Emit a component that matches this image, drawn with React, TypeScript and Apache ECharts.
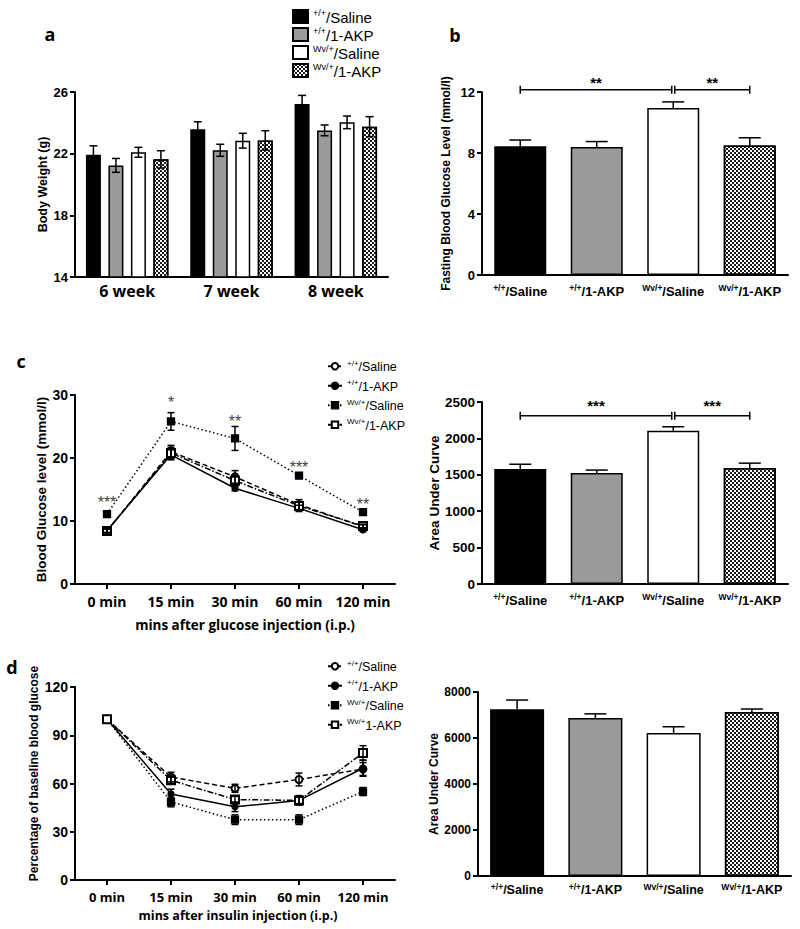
import React, { useEffect, useRef } from 'react';
import * as echarts from 'echarts';

const FONT = '"Liberation Sans", Arial, Helvetica, sans-serif';
const FONT2 = '"Open Sans", "Liberation Sans", sans-serif';

// ---------- shared group labels ----------
const genoSup = ['+/+', '+/+', 'Wv/+', 'Wv/+'];
const treatment = ['/Saline', '/1-AKP', '/Saline', '/1-AKP'];
const ittLegendTreatment = ['/Saline', '/1-AKP', '/Saline', '1-AKP'];
const groupNames = genoSup.map((g, i) => g + treatment[i]);

// ---------- panel a : body weight ----------
const weeks = ['6 week', '7 week', '8 week'];
const bwWtSaline = [21.93, 23.58, 25.22];
const bwWtSalineErr = [0.58, 0.49, 0.56];
const bwWtAkp = [21.24, 22.22, 23.51];
const bwWtAkpErr = [0.45, 0.39, 0.35];
const bwWvSaline = [22.09, 22.84, 24.03];
const bwWvSalineErr = [0.32, 0.48, 0.41];
const bwWvAkp = [21.63, 22.86, 23.75];
const bwWvAkpErr = [0.56, 0.63, 0.65];

// ---------- panel b : fasting blood glucose ----------
const fbgMean = [8.45, 8.4, 10.95, 8.5];
const fbgSem = [0.4, 0.35, 0.4, 0.5];
const fbgBrackets = [[0, 2], [2, 3]];
const fbgBracketY = 12.15;
const fbgBracketStars = ['**', '**'];

// ---------- panel c : GTT ----------
const times = ['0 min', '15 min', '30 min', '60 min', '120 min'];
const gttWtSaline = [8.4, 21.0, 17.0, 12.6, 9.1];
const gttWtSalineErr = [0.3, 1.0, 1.0, 0.8, 0.3];
const gttWtAkp = [8.5, 20.5, 15.2, 12.0, 8.6];
const gttWtAkpErr = [0.3, 0.8, 0.4, 0.5, 0.3];
const gttWvSaline = [11.1, 25.8, 23.1, 17.2, 11.4];
const gttWvSalineErr = [0.4, 1.4, 1.9, 0.4, 0.3];
const gttWvAkp = [8.4, 20.8, 16.4, 12.4, 9.2];
const gttWvAkpErr = [0.3, 0.9, 0.8, 0.6, 0.3];
const gttStars = ['***', '*', '**', '***', '**'];
const gttStarY = [13.6, 29.4, 26.5, 19.2, 13.2];

const aucGttMean = [1580, 1525, 2105, 1595];
const aucGttSem = [65, 40, 55, 65];
const aucGttBrackets = [[0, 2], [2, 3]];
const aucGttBracketY = 2310;
const aucGttStars = ['***', '***'];

// ---------- panel d : ITT ----------
const ittWtSaline = [100, 64, 57, 62.5, 69];
const ittWtSalineErr = [0, 3, 2.5, 4, 4];
const ittWtAkp = [100, 53.5, 45.5, 49.5, 69.5];
const ittWtAkpErr = [0, 3, 3, 3, 5];
const ittWvSaline = [100, 48.5, 37.5, 37.5, 55];
const ittWvSalineErr = [0, 3, 3, 3, 2.5];
const ittWvAkp = [100, 62, 50, 49.5, 79];
const ittWvAkpErr = [0, 2, 2, 2, 4.5];

const aucIttMean = [7250, 6870, 6220, 7130];
const aucIttSem = [400, 180, 270, 130];

// ---------- styles ----------
const checkerDecal = {
  symbol: 'rect',
  symbolSize: 1,
  color: '#1a1a1a',
  dashArrayX: [[2, 2], [0, 2, 2, 0]],
  dashArrayY: [2, 0],
  rotation: 0,
};
const barStyles: any[] = [
  { color: '#000', borderColor: '#000', borderWidth: 1.5 },
  { color: '#9a9a9a', borderColor: '#000', borderWidth: 1.5 },
  { color: '#fff', borderColor: '#000', borderWidth: 1.5 },
  { color: '#fff', borderColor: '#000', borderWidth: 1.5, decal: checkerDecal },
];

const supRich = (main: number, sup: number, weight: string, family = FONT) => ({
  s: { fontSize: sup, fontWeight: weight, fontFamily: family, color: '#000', verticalAlign: 'top', lineHeight: sup + 1 },
  n: { fontSize: main, fontWeight: weight, fontFamily: family, color: '#000', verticalAlign: 'bottom', lineHeight: main + 2 },
});

const legendText: Record<string, string> = {};
genoSup.forEach((g, i) => {
  legendText['a' + i] = `{s|${g}}{n|${treatment[i]}}`;
  legendText['c' + i] = `{s|${g}}{n|${treatment[i]}}`;
  legendText['d' + i] = `{s|${g}}{n|${ittLegendTreatment[i]}}`;
});

const axLine = { show: true, lineStyle: { color: '#000', width: 2 } };
const axTick = { show: true, length: 5, lineStyle: { color: '#000', width: 2 } };

function yAx(gridIndex: number, min: number, max: number, interval: number, name: string, nameGap: number, nameSize: number, labelSize: number, namePad: number[] = [0, 0, 0, 0]) {
  return {
    type: 'value', gridIndex, min, max, interval,
    axisLine: axLine, axisTick: axTick, splitLine: { show: false },
    axisLabel: { color: '#000', fontFamily: FONT, fontWeight: 'bold', fontSize: labelSize, margin: 7, formatter: (v: number) => String(v) },
    name, nameLocation: 'middle', nameGap, nameRotate: 90,
    nameTextStyle: { color: '#000', fontFamily: FONT, fontWeight: 'bold', fontSize: nameSize, padding: namePad },
  };
}

function groupAx(gridIndex: number, main: number, sup: number, margin: number) {
  return {
    type: 'category', gridIndex, data: groupNames,
    axisLine: axLine, axisTick: { show: false },
    axisLabel: {
      interval: 0, margin,
      formatter: (_v: string, i: number) => `{s|${genoSup[i]}}{n|${treatment[i]}}`,
      rich: supRich(main, sup, 'bold'),
    },
  };
}

function timeAx(gridIndex: number, size: number, margin: number) {
  return {
    type: 'category', gridIndex, data: times,
    axisLine: axLine, axisTick: { show: true, alignWithLabel: true, length: 5, lineStyle: { color: '#000', width: 2 } },
    axisLabel: { interval: 0, margin, color: '#000', fontFamily: FONT2, fontWeight: 'bold', fontSize: size },
  };
}

function errorBars(xAxisIndex: number, yAxisIndex: number, means: number[], errs: number[], offset: number, capHalf: number, oneSided: boolean) {
  return {
    type: 'custom', xAxisIndex, yAxisIndex, z: 5, silent: true,
    data: means.map((m, i) => [i, m, errs[i]]),
    renderItem: (_p: any, api: any) => {
      const i = api.value(0), m = api.value(1), e = api.value(2);
      if (!e) return null;
      const top = api.coord([i, m + e]);
      const bot = api.coord([i, oneSided ? m : m - e]);
      const x = top[0] + offset;
      const st = { stroke: '#000', lineWidth: 1.5 };
      const children: any[] = [
        { type: 'line', shape: { x1: x, y1: top[1], x2: x, y2: bot[1] }, style: st },
        { type: 'line', shape: { x1: x - capHalf, y1: top[1], x2: x + capHalf, y2: top[1] }, style: st },
      ];
      if (!oneSided) children.push({ type: 'line', shape: { x1: x - capHalf, y1: bot[1], x2: x + capHalf, y2: bot[1] }, style: st });
      return { type: 'group', children };
    },
  };
}

function brackets(xAxisIndex: number, yAxisIndex: number, pairs: number[][], y: number, stars: string[], starDy: number) {
  return {
    type: 'custom', xAxisIndex, yAxisIndex, z: 5, silent: true,
    data: pairs.map((p) => [p[0], y, p[1]]),
    renderItem: (params: any, api: any) => {
      const x1 = api.value(0), yy = api.value(1), x2 = api.value(2);
      const p1 = api.coord([x1, yy]);
      const p2 = api.coord([x2, yy]);
      const a = p1[0] + (x1 === 2 ? 1.5 : 0);
      const b = p2[0] - (x2 === 2 ? 1.5 : 0);
      const st = { stroke: '#000', lineWidth: 1.5 };
      return {
        type: 'group',
        children: [
          { type: 'line', shape: { x1: a, y1: p1[1], x2: b, y2: p1[1] }, style: st },
          { type: 'line', shape: { x1: a, y1: p1[1] - 4, x2: a, y2: p1[1] + 4 }, style: st },
          { type: 'line', shape: { x1: b, y1: p1[1] - 4, x2: b, y2: p1[1] + 4 }, style: st },
          {
            type: 'text', x: (a + b) / 2, y: p1[1] + starDy,
            style: { text: stars[params.dataIndex], fill: '#000', fontSize: 15, fontWeight: 'bold', fontFamily: FONT, align: 'center', verticalAlign: 'middle', textAlign: 'center', textVerticalAlign: 'middle' },
          },
        ],
      };
    },
  };
}

function lineSeries(name: string, xi: number, yi: number, data: number[], symbol: string, symbolSize: number, dash: any) {
  return {
    type: 'line', name, xAxisIndex: xi, yAxisIndex: yi, data, symbol, symbolSize, z: 3,
    lineStyle: { color: '#000', width: 1.5, type: dash },
    itemStyle: { color: '#000', borderColor: '#000', borderWidth: 1.3 },
    emphasis: { disabled: true },
  };
}

const lineSymbols = ['emptyCircle', 'circle', 'rect', 'emptyRect'];
const lineSizes = [7, 6, 7, 8];
const lineDashes: any[] = [[5, 3], 'solid', [1.5, 2.5], [6, 2, 1.5, 2]];

function groupBars(name: string, xi: number, yi: number, vals: number[], width: number) {
  return {
    type: 'bar', name, xAxisIndex: xi, yAxisIndex: yi, barWidth: width,
    data: vals.map((v, i) => ({ value: v, itemStyle: barStyles[i] })),
    emphasis: { disabled: true },
  };
}

function buildOption() {
  const bwSets = [bwWtSaline, bwWtAkp, bwWvSaline, bwWvAkp];
  const bwErrs = [bwWtSalineErr, bwWtAkpErr, bwWvSalineErr, bwWvAkpErr];
  const gttSets = [gttWtSaline, gttWtAkp, gttWvSaline, gttWvAkp];
  const gttErrs = [gttWtSalineErr, gttWtAkpErr, gttWvSalineErr, gttWvAkpErr];
  const ittSets = [ittWtSaline, ittWtAkp, ittWvSaline, ittWvAkp];
  const ittErrs = [ittWtSalineErr, ittWtAkpErr, ittWvSalineErr, ittWvAkpErr];

  const series: any[] = [];
  // panel a
  bwSets.forEach((vals, k) => {
    series.push({
      type: 'bar', name: 'a' + k, xAxisIndex: 0, yAxisIndex: 0, data: vals,
      barWidth: 15, barGap: '50%', clip: true,
      itemStyle: barStyles[k], emphasis: { disabled: true },
    });
  });
  bwSets.forEach((vals, k) => {
    series.push(errorBars(0, 0, vals, bwErrs[k], (k - 1.5) * 22.5, 4, false));
  });
  // panel b
  series.push(groupBars('fbg', 1, 1, fbgMean, 52));
  series.push(errorBars(1, 1, fbgMean, fbgSem, 0, 11, true));
  series.push(brackets(1, 1, fbgBrackets, fbgBracketY, fbgBracketStars, -7));
  // panel c left
  gttSets.forEach((vals, k) => {
    series.push(lineSeries('c' + k, 2, 2, vals, lineSymbols[k], lineSizes[k], lineDashes[k]));
  });
  gttSets.forEach((vals, k) => {
    series.push(errorBars(2, 2, vals, gttErrs[k], 0, 3.5, false));
  });
  series.push({
    type: 'custom', xAxisIndex: 2, yAxisIndex: 2, z: 6, silent: true,
    data: gttStarY.map((v, i) => [i, v]),
    renderItem: (params: any, api: any) => {
      const p = api.coord([api.value(0), api.value(1)]);
      return {
        type: 'text', x: p[0], y: p[1] + 4,
        style: { text: gttStars[params.dataIndex], fill: '#444', fontSize: 16, fontWeight: 'normal', fontFamily: FONT, align: 'center', verticalAlign: 'middle', textAlign: 'center', textVerticalAlign: 'middle' },
      };
    },
  });
  // panel c right
  series.push(groupBars('aucGtt', 3, 3, aucGttMean, 52));
  series.push(errorBars(3, 3, aucGttMean, aucGttSem, 0, 11, true));
  series.push(brackets(3, 3, aucGttBrackets, aucGttBracketY, aucGttStars, -10));
  // panel d left
  ittSets.forEach((vals, k) => {
    series.push(lineSeries('d' + k, 4, 4, vals, lineSymbols[k], lineSizes[k], lineDashes[k]));
  });
  ittSets.forEach((vals, k) => {
    series.push(errorBars(4, 4, vals, ittErrs[k], 0, 3.5, false));
  });
  // panel d right
  series.push(groupBars('aucItt', 5, 5, aucIttMean, 54));
  series.push(errorBars(5, 5, aucIttMean, aucIttSem, 0, 11, true));

  const legendFmt = (n: string) => legendText[n] || n;
  const letter = (t: string, x: number, y: number) => ({
    type: 'text', x, y,
    style: { text: t, fill: '#000', fontSize: 18, fontWeight: 'bold', fontFamily: FONT2, align: 'center', verticalAlign: 'middle', textAlign: 'center', textVerticalAlign: 'middle' },
  });
  const title = (t: string, x: number, y: number, size: number) => ({
    type: 'text', x, y,
    style: { text: t, fill: '#000', fontSize: size, fontWeight: 'bold', fontFamily: FONT2, align: 'center', verticalAlign: 'middle', textAlign: 'center', textVerticalAlign: 'middle' },
  });

  return {
    animation: false,
    backgroundColor: '#fff',
    grid: [
      { left: 75, top: 92, width: 313, height: 185 },
      { left: 482, top: 92, width: 306, height: 183 },
      { left: 75, top: 395, width: 320, height: 189 },
      { left: 482, top: 402, width: 306, height: 182 },
      { left: 75, top: 687, width: 320, height: 193 },
      { left: 478, top: 692, width: 313, height: 184 },
    ],
    xAxis: [
      {
        type: 'category', gridIndex: 0, data: weeks,
        axisLine: axLine, axisTick: { show: false },
        axisLabel: { color: '#000', fontFamily: FONT2, fontWeight: 'bold', fontSize: 16, margin: 6 },
      },
      groupAx(1, 13, 8.5, 8),
      timeAx(2, 14, 10),
      groupAx(3, 13, 8.5, 8),
      timeAx(4, 13, 10),
      groupAx(5, 12.5, 8.5, 6),
    ],
    yAxis: [
      yAx(0, 14, 26, 4, 'Body Weight (g)', 26, 12.5, 13),
      yAx(1, 0, 12, 4, 'Fasting Blood Glucose Level (mmol/l)', 30, 12, 13),
      yAx(2, 0, 30, 10, 'Blood Glucose level (mmol/l)', 27, 13.5, 14),
      yAx(3, 0, 2500, 500, 'Area Under Curve', 41, 13.5, 13.5),
      yAx(4, 0, 120, 30, 'Percentage of baseline blood glucose', 35, 12, 14, [0, 0, 0, 20]),
      yAx(5, 0, 8000, 2000, 'Area Under Curve', 37, 12, 12),
    ],
    legend: [
      {
        data: ['a0', 'a1', 'a2', 'a3'], orient: 'vertical', left: 292, top: 8, padding: 0,
        itemWidth: 15, itemHeight: 13, itemGap: 1, icon: 'rect', selectedMode: false,
        formatter: legendFmt, textStyle: { rich: supRich(15, 9, 'normal') },
      },
      {
        data: ['c0', 'c1', 'c2', 'c3'], orient: 'vertical', left: 327, top: 359, padding: 0,
        itemWidth: 14, itemHeight: 8, itemGap: 5, selectedMode: false,
        formatter: legendFmt, textStyle: { rich: supRich(12.5, 8, 'normal') },
      },
      {
        data: ['d0', 'd1', 'd2', 'd3'], orient: 'vertical', left: 327, top: 659, padding: 0,
        itemWidth: 14, itemHeight: 8, itemGap: 5, selectedMode: false,
        formatter: legendFmt, textStyle: { rich: supRich(12.5, 8, 'normal') },
      },
    ],
    graphic: [
      letter('a', 50, 34),
      letter('b', 455, 35),
      letter('c', 21, 361),
      letter('d', 12, 667),
      title('mins after glucose injection (i.p.)', 245, 625, 13.5),
      title('mins after insulin injection (i.p.)', 238, 915, 12.5),
    ],
    series,
  };
}

export default function App() {
  const ref = useRef<HTMLDivElement>(null);
  useEffect(() => {
    if (!ref.current) return;
    const chart = echarts.init(ref.current, undefined, { renderer: 'svg' });
    chart.setOption(buildOption() as any);
    return () => chart.dispose();
  }, []);
  return (
    <div
      ref={ref}
      style={{ position: 'absolute', left: 0, top: 0, width: 800, height: 929, background: '#fff' }}
    />
  );
}
